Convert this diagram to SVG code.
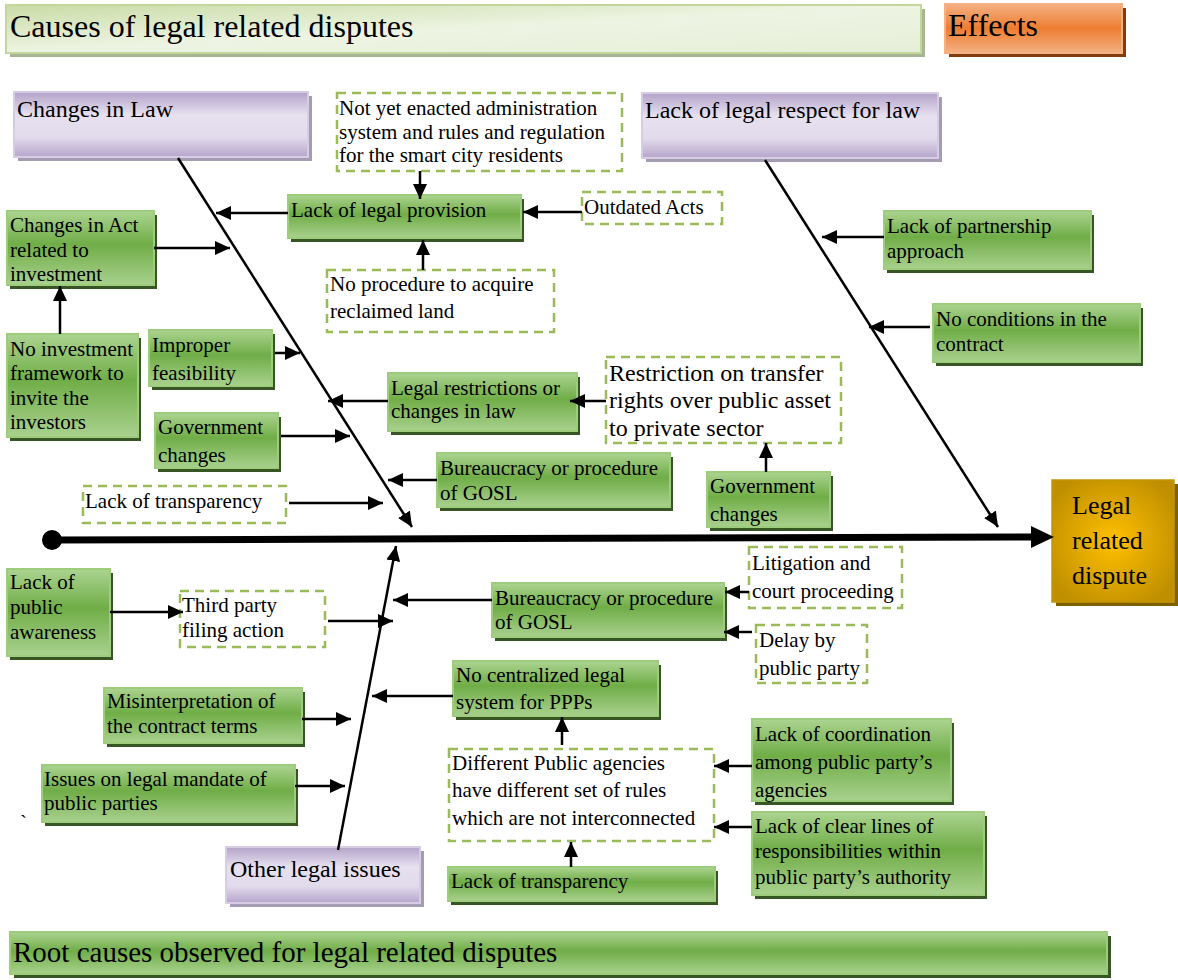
<svg xmlns="http://www.w3.org/2000/svg" width="1178" height="980" viewBox="0 0 1178 980">
<style>
text{font-family:"Liberation Serif","Times New Roman",serif;fill:#000}
.t21{font-size:21px}
.t24{font-size:24px}
.t32{font-size:32px}
.g{fill:url(#gGreen);stroke:#9ccc7c;stroke-width:2}
.gs{fill:#375623}
.p{fill:url(#gPurple);stroke:#d6cde4;stroke-width:2}
.ps{fill:#a49cb3}
.d{fill:#fff;stroke:#9bbb59;stroke-width:2.5;stroke-dasharray:9 6}
.c{stroke:#000;stroke-width:2.5;fill:none;marker-end:url(#ah)}
</style>
<defs>
<linearGradient id="gGreen" x1="0" y1="0" x2="0" y2="1">
<stop offset="0" stop-color="#acd491"/>
<stop offset="0.45" stop-color="#70ad47"/>
<stop offset="1" stop-color="#a9d18e"/>
</linearGradient>
<linearGradient id="gPurple" x1="0" y1="0" x2="0" y2="1">
<stop offset="0" stop-color="#b3a2c9"/>
<stop offset="0.35" stop-color="#e6e0ef"/>
<stop offset="0.7" stop-color="#e2dbec"/>
<stop offset="1" stop-color="#b5a5cb"/>
</linearGradient>
<linearGradient id="gHead" x1="0" y1="0" x2="1" y2="1">
<stop offset="0" stop-color="#c9dca6"/>
<stop offset="0.5" stop-color="#eef4e3"/>
<stop offset="1" stop-color="#e6eed8"/>
</linearGradient>
<linearGradient id="gOrange" x1="0" y1="0" x2="0" y2="1">
<stop offset="0" stop-color="#f4b183"/>
<stop offset="0.5" stop-color="#ed7d31"/>
<stop offset="1" stop-color="#f4b183"/>
</linearGradient>
<radialGradient id="gGold" cx="0.5" cy="0.5" r="0.6">
<stop offset="0" stop-color="#ffc000"/>
<stop offset="1" stop-color="#bf8f00"/>
</radialGradient>
<marker id="ah" markerUnits="userSpaceOnUse" markerWidth="15" markerHeight="14" refX="15" refY="7" orient="auto">
<path d="M0,0 L15,7 L0,14 z" fill="#000"/>
</marker>
</defs>

<g id="header">
<rect x="10" y="9" width="915" height="48" fill="#a8b594"/>
<rect x="6" y="5" width="915" height="48" fill="url(#gHead)" stroke="#c4d79b" stroke-width="2"/>
<text class="t32" x="10" y="37">Causes of legal related disputes</text>
</g>
<g id="effects">
<rect x="949" y="8" width="177" height="49" fill="#843c0c"/>
<rect x="945" y="4" width="177" height="49" fill="url(#gOrange)" stroke="#f4b183" stroke-width="2"/>
<text class="t32" x="948" y="36">Effects</text>
</g>

<g id="changes-in-law">
<rect class="ps" x="18" y="96" width="294" height="65"/>
<rect class="p" x="14" y="92" width="294" height="65"/>
<text class="t24" x="17" y="117">Changes in Law</text>
</g>
<g id="lack-respect">
<rect class="ps" x="646" y="97" width="296" height="65"/>
<rect class="p" x="642" y="93" width="296" height="65"/>
<text class="t24" x="645" y="118">Lack of legal respect for law</text>
</g>
<g id="other-legal">
<rect class="ps" x="230" y="851" width="194" height="56"/>
<rect class="p" x="226" y="847" width="194" height="56"/>
<text class="t24" x="230" y="877">Other legal issues</text>
</g>

<g id="not-yet-enacted">
<rect class="d" x="337" y="93" width="285" height="78"/>
<text class="t21" x="339" y="115">Not yet enacted administration</text>
<text class="t21" x="339" y="139">system and rules and regulation</text>
<text class="t21" x="339" y="162">for the smart city residents</text>
</g>
<g id="lack-legal-provision">
<rect class="gs" x="291" y="199" width="233" height="43"/>
<rect class="g" x="288" y="195" width="233" height="43"/>
<text class="t21" x="291" y="217">Lack of legal provision</text>
</g>
<g id="outdated-acts">
<rect class="d" x="582" y="192" width="140" height="32"/>
<text class="t21" x="584" y="214">Outdated Acts</text>
</g>
<g id="no-procedure">
<rect class="d" x="327" y="270" width="227" height="62"/>
<text class="t21" x="330" y="291">No procedure to acquire</text>
<text class="t21" x="330" y="318">reclaimed land</text>
</g>
<g id="changes-in-act">
<rect class="gs" x="10" y="215" width="147" height="74"/>
<rect class="g" x="7" y="211" width="147" height="74"/>
<text class="t21" x="10" y="232">Changes in Act</text>
<text class="t21" x="10" y="257">related to</text>
<text class="t21" x="10" y="281">investment</text>
</g>
<g id="no-investment">
<rect class="gs" x="10" y="338" width="131" height="103"/>
<rect class="g" x="7" y="334" width="131" height="103"/>
<text class="t21" x="10" y="356">No investment</text>
<text class="t21" x="10" y="380">framework to</text>
<text class="t21" x="10" y="405">invite the</text>
<text class="t21" x="10" y="429">investors</text>
</g>
<g id="improper-feasibility">
<rect class="gs" x="152" y="334" width="123" height="56"/>
<rect class="g" x="149" y="330" width="123" height="56"/>
<text class="t21" x="152" y="352">Improper</text>
<text class="t21" x="152" y="380">feasibility</text>
</g>
<g id="government-changes-left">
<rect class="gs" x="158" y="417" width="123" height="55"/>
<rect class="g" x="155" y="413" width="123" height="55"/>
<text class="t21" x="158" y="434">Government</text>
<text class="t21" x="158" y="462">changes</text>
</g>
<g id="legal-restrictions">
<rect class="gs" x="391" y="377" width="189" height="58"/>
<rect class="g" x="388" y="373" width="189" height="58"/>
<text class="t21" x="391" y="395">Legal restrictions or</text>
<text class="t21" x="391" y="418">changes in law</text>
</g>
<g id="restriction-transfer">
<rect class="d" x="606" y="357" width="235" height="86"/>
<text class="t24" x="609" y="381">Restriction on transfer</text>
<text class="t24" x="609" y="408">rights over public asset</text>
<text class="t24" x="609" y="436">to private sector</text>
</g>
<g id="bureaucracy-upper">
<rect class="gs" x="440" y="457" width="233" height="54"/>
<rect class="g" x="437" y="453" width="233" height="54"/>
<text class="t21" x="440" y="475">Bureaucracy or procedure</text>
<text class="t21" x="440" y="500">of GOSL</text>
</g>
<g id="government-changes-right">
<rect class="gs" x="710" y="476" width="123" height="55"/>
<rect class="g" x="707" y="472" width="123" height="55"/>
<text class="t21" x="710" y="493">Government</text>
<text class="t21" x="710" y="521">changes</text>
</g>
<g id="lack-transparency-upper">
<rect class="d" x="83" y="486" width="203" height="37"/>
<text class="t21" x="85" y="508">Lack of transparency</text>
</g>
<g id="lack-partnership">
<rect class="gs" x="887" y="215" width="207" height="58"/>
<rect class="g" x="884" y="211" width="207" height="58"/>
<text class="t21" x="887" y="233">Lack of partnership</text>
<text class="t21" x="887" y="258">approach</text>
</g>
<g id="no-conditions">
<rect class="gs" x="936" y="308" width="207" height="58"/>
<rect class="g" x="933" y="304" width="207" height="58"/>
<text class="t21" x="936" y="326">No conditions in the</text>
<text class="t21" x="936" y="351">contract</text>
</g>
<g id="legal-related-dispute">
<rect x="1056" y="484" width="122" height="122" fill="#7f6000"/>
<rect x="1052" y="480" width="122" height="122" fill="url(#gGold)" stroke="#c49600" stroke-width="1.5"/>
<text x="1072" y="514" style="font-size:26px">Legal</text>
<text x="1072" y="549" style="font-size:26px">related</text>
<text x="1072" y="584" style="font-size:26px">dispute</text>
</g>
<g id="litigation">
<rect class="d" x="749" y="547" width="153" height="61"/>
<text class="t21" x="752" y="570">Litigation and</text>
<text class="t21" x="752" y="598">court proceeding</text>
</g>
<g id="bureaucracy-lower">
<rect class="gs" x="495" y="587" width="232" height="54"/>
<rect class="g" x="492" y="583" width="232" height="54"/>
<text class="t21" x="495" y="605">Bureaucracy or procedure</text>
<text class="t21" x="495" y="629">of GOSL</text>
</g>
<g id="delay-public-party">
<rect class="d" x="756" y="625" width="111" height="58"/>
<text class="t21" x="759" y="647">Delay by</text>
<text class="t21" x="759" y="675">public party</text>
</g>
<g id="lack-public-awareness">
<rect class="gs" x="10" y="573" width="103" height="87"/>
<rect class="g" x="7" y="569" width="103" height="87"/>
<text class="t21" x="10" y="589">Lack of</text>
<text class="t21" x="10" y="614">public</text>
<text class="t21" x="10" y="639">awareness</text>
</g>
<g id="third-party">
<rect class="d" x="180" y="591" width="145" height="56"/>
<text class="t21" x="182" y="612">Third party</text>
<text class="t21" x="182" y="637">filing action</text>
</g>
<g id="misinterpretation">
<rect class="gs" x="107" y="692" width="198" height="55"/>
<rect class="g" x="104" y="688" width="198" height="55"/>
<text class="t21" x="107" y="708">Misinterpretation of</text>
<text class="t21" x="107" y="733">the contract terms</text>
</g>
<g id="issues-mandate">
<rect class="gs" x="45" y="769" width="253" height="57"/>
<rect class="g" x="42" y="765" width="253" height="57"/>
<text class="t21" x="44" y="786">Issues on legal mandate of</text>
<text class="t21" x="44" y="810">public parties</text>
</g>
<text class="t21" x="20" y="830">`</text>
<g id="no-centralized">
<rect class="gs" x="456" y="665" width="205" height="55"/>
<rect class="g" x="453" y="661" width="205" height="55"/>
<text class="t21" x="456" y="682">No centralized legal</text>
<text class="t21" x="456" y="709">system for PPPs</text>
</g>
<g id="different-agencies">
<rect class="d" x="449" y="749" width="265" height="92"/>
<text class="t21" x="452" y="770">Different Public agencies</text>
<text class="t21" x="452" y="797">have different set of rules</text>
<text class="t21" x="452" y="825">which are not interconnected</text>
</g>
<g id="lack-transparency-lower">
<rect class="gs" x="451" y="871" width="267" height="34"/>
<rect class="g" x="448" y="867" width="267" height="34"/>
<text class="t21" x="451" y="888">Lack of transparency</text>
</g>
<g id="lack-coordination">
<rect class="gs" x="755" y="723" width="199" height="82"/>
<rect class="g" x="752" y="719" width="199" height="82"/>
<text class="t21" x="755" y="741">Lack of coordination</text>
<text class="t21" x="755" y="769">among public party’s</text>
<text class="t21" x="755" y="797">agencies</text>
</g>
<g id="lack-clear-lines">
<rect class="gs" x="755" y="816" width="232" height="83"/>
<rect class="g" x="752" y="812" width="232" height="83"/>
<text class="t21" x="755" y="833">Lack of clear lines of</text>
<text class="t21" x="755" y="858">responsibilities within</text>
<text class="t21" x="755" y="884">public party’s authority</text>
</g>
<g id="root-causes">
<rect class="gs" x="14" y="936" width="1097" height="42"/>
<rect class="g" x="10" y="932" width="1097" height="42"/>
<text x="13" y="962" style="font-size:29px">Root causes observed for legal related disputes</text>
</g>

<g id="connectors">
<circle cx="52" cy="540" r="10" fill="#000"/>
<line x1="52" y1="540" x2="1032" y2="537" stroke="#000" stroke-width="7"/>
<polygon points="1031,526 1054,537 1031,548" fill="#000"/>
<path class="c" d="M178,158 L412,527"/>
<path class="c" d="M765,160 L998,527"/>
<path class="c" d="M338,850 L396,546"/>
<path class="c" d="M288,213 L216,213"/>
<path class="c" d="M420,171 L420,199"/>
<path class="c" d="M423,270 L423,240"/>
<path class="c" d="M582,212 L523,212"/>
<path class="c" d="M154,248 L230,248"/>
<path class="c" d="M60,334 L60,286"/>
<path class="c" d="M275,353 L300,353"/>
<path class="c" d="M281,436 L350,436"/>
<path class="c" d="M388,401 L328,401"/>
<path class="c" d="M606,401 L570,401"/>
<path class="c" d="M766,472 L766,443"/>
<path class="c" d="M437,480 L388,480"/>
<path class="c" d="M289,503 L383,503"/>
<path class="c" d="M884,237 L822,237"/>
<path class="c" d="M930,327 L869,327"/>
<path class="c" d="M110,612 L183,612"/>
<path class="c" d="M328,621 L393,621"/>
<path class="c" d="M492,600 L393,600"/>
<path class="c" d="M749,592 L725,592"/>
<path class="c" d="M752,632 L724,632"/>
<path class="c" d="M453,696 L372,696"/>
<path class="c" d="M562,745 L562,717"/>
<path class="c" d="M302,719 L351,719"/>
<path class="c" d="M295,786 L345,786"/>
<path class="c" d="M752,766 L714,766"/>
<path class="c" d="M752,827 L714,827"/>
<path class="c" d="M571,867 L571,842"/>
</g>
</svg>
